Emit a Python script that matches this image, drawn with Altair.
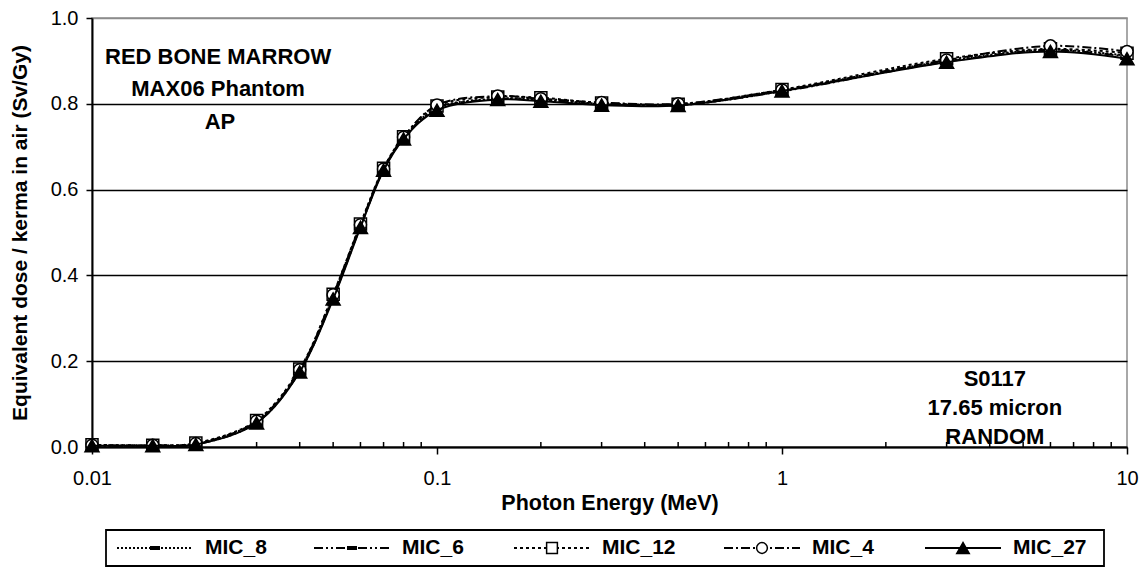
import altair as alt
import pandas as pd

# ---------------- data ----------------
energy = [0.01, 0.015, 0.02, 0.03, 0.04, 0.05, 0.06, 0.07, 0.08, 0.1,
          0.15, 0.2, 0.3, 0.5, 1, 3, 6, 10]

mic_8 = [0.004, 0.003, 0.007, 0.058, 0.178, 0.350, 0.515, 0.647, 0.720, 0.790,
         0.812, 0.810, 0.800, 0.797, 0.830, 0.900, 0.926, 0.912]
mic_6 = [0.003, 0.003, 0.006, 0.057, 0.176, 0.348, 0.514, 0.646, 0.719, 0.788,
         0.811, 0.808, 0.799, 0.797, 0.829, 0.898, 0.925, 0.910]
mic_12 = [0.005, 0.004, 0.009, 0.062, 0.182, 0.356, 0.520, 0.650, 0.723, 0.795,
          0.816, 0.814, 0.802, 0.799, 0.833, 0.905, 0.928, 0.918]
mic_4 = [0.004, 0.004, 0.008, 0.060, 0.180, 0.355, 0.518, 0.648, 0.722, 0.797,
         0.818, 0.812, 0.803, 0.800, 0.832, 0.902, 0.935, 0.922]
mic_27 = [0.003, 0.003, 0.006, 0.056, 0.175, 0.345, 0.512, 0.645, 0.718, 0.785,
          0.810, 0.806, 0.797, 0.796, 0.830, 0.897, 0.922, 0.905]

series_names = ["MIC_8", "MIC_6", "MIC_12", "MIC_4", "MIC_27"]
series_values = [mic_8, mic_6, mic_12, mic_4, mic_27]

y_ticks = [0.0, 0.2, 0.4, 0.6, 0.8, 1.0]
x_major = [0.01, 0.1, 1, 10]
x_minor = [m * d for d in [0.01, 0.1, 1] for m in range(2, 10)]

ann_text = ["RED BONE MARROW", "MAX06 Phantom", "AP",
            "S0117", "17.65 micron", "RANDOM"]
ann_x = [0.0232, 0.0232, 0.0235, 4.14, 4.14, 4.14]
ann_y = [0.909, 0.834, 0.758, 0.158, 0.091, 0.023]

# ---------------- layout / style ----------------
W, H = 1035, 429
LEFT, TOP = 92, 18
FONT = "Liberation Sans"

DASH_SHAPE = "M-1,-0.28L1,-0.28L1,0.28L-1,0.28Z"
styles = {
    "MIC_8": dict(dash=[2, 2], shape=DASH_SHAPE, fill="black", size=90),
    "MIC_6": dict(dash=[9, 3, 2, 3, 2, 3], shape=DASH_SHAPE, fill="black", size=90),
    "MIC_12": dict(dash=[3, 3], shape="square", fill="white", size=145),
    "MIC_4": dict(dash=[9, 3, 2, 3], shape="circle", fill="white", size=145),
    "MIC_27": dict(dash=None, shape="triangle-up", fill="black", size=195),
}

rows = []
for name, vals in zip(series_names, series_values):
    for e, v in zip(energy, vals):
        rows.append({"energy": e, "value": v, "series": name})
df = pd.DataFrame(rows)

x_scale = alt.Scale(type="log", domain=[0.01, 10], nice=False)
y_scale = alt.Scale(domain=[0, 1], nice=False, zero=True)

x_enc = alt.X("energy:Q", scale=x_scale,
              axis=alt.Axis(values=x_major, format="~g", grid=False, labelFlush=False,
                            tickSize=7, tickWidth=1.5, tickColor="black",
                            domainColor="black", domainWidth=2,
                            labelFontSize=20, labelPadding=14, labelColor="black",
                            title="Photon Energy (MeV)", titleFontSize=21.5,
                            titleFontWeight="bold", titlePadding=4,
                            titleColor="black"))
y_enc = alt.Y("value:Q", scale=y_scale,
              axis=alt.Axis(values=y_ticks, format=".1f", grid=True,
                            gridColor={"condition": {"test": "datum.value >= 1", "value": "#8c8c8c"},
                                       "value": "black"},
                            gridWidth=1.5, labelFlush=False,
                            tickSize=6, tickWidth=1.5, tickColor="black",
                            domainColor="black", domainWidth=2,
                            labelFontSize=20, labelPadding=8, labelColor="black",
                            title="Equivalent dose / kerma in air (Sv/Gy)",
                            titleFontSize=21, titleFontWeight="bold",
                            titlePadding=20, titleColor="black"))

layers = []

# minor ticks (drawn inward like the source)
minor_df = pd.DataFrame({"energy": x_minor})
layers.append(
    alt.Chart(minor_df).mark_rule(color="black", strokeWidth=1.5).encode(
        x=x_enc, y=alt.value(H - 5), y2=alt.value(H))
)

for name in series_names:
    st = styles[name]
    sub = df[df.series == name]
    line_kwargs = dict(color="black", strokeWidth=2, interpolate="catmull-rom")
    if st["dash"]:
        line_kwargs["strokeDash"] = st["dash"]
    layers.append(alt.Chart(sub).mark_line(**line_kwargs).encode(x=x_enc, y=y_enc))
    layers.append(
        alt.Chart(sub).mark_point(shape=st["shape"], filled=True, fill=st["fill"],
                                  stroke="black", strokeWidth=1.5, size=st["size"],
                                  opacity=1).encode(x=x_enc, y=y_enc)
    )

ann_df = pd.DataFrame({"energy": ann_x, "value": ann_y, "text": ann_text})
layers.append(
    alt.Chart(ann_df).mark_text(font=FONT, fontSize=22, fontWeight="bold",
                                color="black", align="center", baseline="middle").encode(
        x=x_enc, y=y_enc, text="text:N")
)

# ---------------- legend ----------------
leg_centers = [155, 352, 552, 762, 963]  # absolute marker centres
LEG_Y = 548 - TOP
layers.append(
    alt.Chart(pd.DataFrame({"k": [0]})).mark_rect(fill="white", stroke="black",
                                                   strokeWidth=1.8).encode(
        x=alt.value(106 - LEFT), x2=alt.value(1104 - LEFT),
        y=alt.value(530 - TOP), y2=alt.value(566 - TOP))
)
for name, c in zip(series_names, leg_centers):
    st = styles[name]
    ldf = pd.DataFrame({"series": [name]})
    cx = c - LEFT
    rk = dict(color="black", strokeWidth=2)
    if st["dash"]:
        rk["strokeDash"] = st["dash"]
    layers.append(alt.Chart(ldf).mark_rule(**rk).encode(
        x=alt.value(cx - 38), x2=alt.value(cx + 38), y=alt.value(LEG_Y)))
    layers.append(alt.Chart(ldf).mark_point(shape=st["shape"], filled=True, fill=st["fill"],
                                            stroke="black", strokeWidth=1.5,
                                            size=st["size"] * 0.8, opacity=1).encode(
        x=alt.value(cx), y=alt.value(LEG_Y)))
    layers.append(alt.Chart(ldf).mark_text(font=FONT, fontSize=21, fontWeight="bold",
                                           align="left", baseline="middle",
                                           color="black").encode(
        x=alt.value(cx + 50), y=alt.value(LEG_Y), text="series:N"))

chart = alt.layer(*layers).properties(
    width=W, height=H,
    autosize="none",
    padding={"left": LEFT, "top": TOP, "right": 1145 - LEFT - W, "bottom": 572 - TOP - H},
    background="white",
).configure_view(stroke="#8c8c8c", strokeWidth=1.5).configure_axis(
    labelFont=FONT, titleFont=FONT
).configure_text(font=FONT)

chart.save("out.html", embed_options={"renderer": "svg", "actions": False})
